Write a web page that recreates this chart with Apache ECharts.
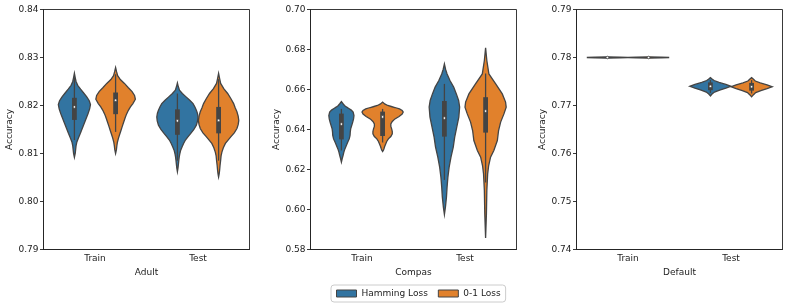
<!DOCTYPE html>
<html><head><meta charset="utf-8">
<script src="https://cdn.jsdelivr.net/npm/echarts@6/dist/echarts.min.js"></script>
<style>html,body{margin:0;padding:0;background:#fff}#c{width:789px;height:308px}</style>
</head><body><div id="c"></div>
<script>
// ---- categories / labels ----
const datasetNames = ['Adult', 'Compas', 'Default'];
const splits = ['Train', 'Test'];
const hueNames = ['Hamming Loss', '0-1 Loss'];
const hueColors = ['#3274a1', '#e1812c'];
const yMins = [0.79, 0.58, 0.74];
const yMaxs = [0.84, 0.70, 0.79];
const yIntervals = [0.01, 0.02, 0.01];

// ---- violin density profiles: [accuracy, relative half-width] ----
const adultTrainHamming = [[0.8092,0],[0.8100,0.04],[0.8108,0.06],[0.8116,0.08],[0.8124,0.12],[0.8133,0.2],[0.8142,0.29],[0.8152,0.38],[0.8163,0.48],[0.8173,0.57],[0.8183,0.66],[0.8193,0.74],[0.8202,0.78],[0.8210,0.72],[0.8218,0.6],[0.8226,0.45],[0.8234,0.3],[0.8242,0.16],[0.8250,0.08],[0.8258,0.04],[0.8267,0]];
const adultTrainZeroOne = [[0.8100,0],[0.8108,0.04],[0.8116,0.06],[0.8124,0.09],[0.8132,0.14],[0.8140,0.2],[0.8148,0.26],[0.8156,0.32],[0.8165,0.39],[0.8174,0.46],[0.8182,0.53],[0.8190,0.62],[0.8197,0.72],[0.8204,0.84],[0.8213,0.96],[0.8221,0.92],[0.8229,0.8],[0.8237,0.62],[0.8246,0.43],[0.8254,0.23],[0.8262,0.1],[0.8270,0.05],[0.8279,0]];
const adultTestHamming = [[0.8062,0],[0.8070,0.03],[0.8078,0.05],[0.8086,0.07],[0.8093,0.09],[0.8100,0.12],[0.8107,0.16],[0.8114,0.23],[0.8121,0.3],[0.8128,0.39],[0.8135,0.52],[0.8142,0.65],[0.8150,0.8],[0.8159,0.92],[0.8168,0.98],[0.8176,1.0],[0.8184,0.97],[0.8190,0.92],[0.8197,0.85],[0.8204,0.76],[0.8211,0.6],[0.8218,0.42],[0.8225,0.24],[0.8232,0.1],[0.8240,0.04],[0.8247,0]];
const adultTestZeroOne = [[0.8051,0],[0.8058,0.03],[0.8065,0.05],[0.8075,0.07],[0.8086,0.1],[0.8095,0.12],[0.8103,0.16],[0.8112,0.23],[0.8121,0.33],[0.8128,0.46],[0.8135,0.6],[0.8143,0.76],[0.8152,0.89],[0.8160,0.95],[0.8169,0.98],[0.8178,0.95],[0.8187,0.89],[0.8195,0.81],[0.8204,0.73],[0.8214,0.6],[0.8225,0.44],[0.8235,0.25],[0.8246,0.1],[0.8256,0.05],[0.8267,0]];
const compasTrainHamming = [[0.6237,0],[0.6255,0.04],[0.6270,0.08],[0.6287,0.12],[0.6303,0.17],[0.6320,0.24],[0.6337,0.31],[0.6353,0.38],[0.6370,0.42],[0.6387,0.43],[0.6403,0.45],[0.6420,0.5],[0.6437,0.55],[0.6453,0.59],[0.6470,0.61],[0.6487,0.57],[0.6497,0.48],[0.6505,0.36],[0.6513,0.24],[0.6520,0.15],[0.6530,0.07],[0.6540,0]];
const compasTrainZeroOne = [[0.6290,0],[0.6297,0.04],[0.6305,0.07],[0.6315,0.1],[0.6328,0.15],[0.6340,0.2],[0.6353,0.28],[0.6365,0.4],[0.6378,0.47],[0.6390,0.47],[0.6403,0.44],[0.6415,0.4],[0.6428,0.4],[0.6440,0.47],[0.6453,0.6],[0.6465,0.8],[0.6477,0.95],[0.6487,1.0],[0.6495,0.95],[0.6503,0.82],[0.6510,0.6],[0.6515,0.42],[0.6520,0.25],[0.6528,0.1],[0.6537,0]];
const compasTestHamming = [[0.5975,0],[0.6012,0.05],[0.6062,0.1],[0.6112,0.13],[0.6162,0.17],[0.6212,0.23],[0.6262,0.32],[0.6312,0.43],[0.6362,0.5],[0.6412,0.6],[0.6462,0.7],[0.6512,0.74],[0.6545,0.69],[0.6578,0.58],[0.6612,0.45],[0.6645,0.27],[0.6678,0.13],[0.6700,0.06],[0.6728,0]];
const compasTestZeroOne = [[0.5858,0],[0.5978,0.04],[0.6095,0.06],[0.6178,0.1],[0.6220,0.15],[0.6262,0.24],[0.6295,0.4],[0.6345,0.57],[0.6395,0.63],[0.6437,0.73],[0.6478,0.89],[0.6512,1.0],[0.6537,0.97],[0.6578,0.81],[0.6628,0.49],[0.6678,0.16],[0.6745,0.06],[0.6808,0]];
const defaultTrainHamming = [[0.77985,0],[0.77995,0.6],[0.7800,1],[0.78005,0.6],[0.78015,0]];
const defaultTrainZeroOne = [[0.77985,0],[0.77995,0.6],[0.7800,1],[0.78005,0.6],[0.78015,0]];
const defaultTestHamming = [[0.7720,0],[0.7724,0.08],[0.7728,0.2],[0.7732,0.45],[0.7736,0.75],[0.7740,1],[0.7744,0.75],[0.7748,0.42],[0.7752,0.18],[0.7755,0.08],[0.7758,0]];
const defaultTestZeroOne = [[0.7718,0],[0.7722,0.08],[0.7727,0.2],[0.7731,0.45],[0.7735,0.75],[0.7739,1],[0.7743,0.75],[0.7747,0.42],[0.7751,0.18],[0.7755,0.08],[0.7758,0]];

// ---- inner box stats: [whiskerLow, q1, median, q3, whiskerHigh] ----
const adultTrainHammingBox = [0.8128, 0.8171, 0.8197, 0.8215, 0.8258];
const adultTrainZeroOneBox = [0.8145, 0.8183, 0.8211, 0.8226, 0.8265];
const adultTestHammingBox = [0.8085, 0.8140, 0.8168, 0.8191, 0.8225];
const adultTestZeroOneBox = [0.8085, 0.8143, 0.8169, 0.8196, 0.8255];
const compasTrainHammingBox = [0.6295, 0.6353, 0.6427, 0.6477, 0.6503];
const compasTrainZeroOneBox = [0.6335, 0.6370, 0.6463, 0.6487, 0.6503];
const compasTestHammingBox = [0.6148, 0.6367, 0.6457, 0.6540, 0.6628];
const compasTestZeroOneBox = [0.6135, 0.6387, 0.6492, 0.6559, 0.6680];
const defaultTrainHammingBox = [0.7800, 0.7800, 0.7800, 0.7800, 0.7800];
const defaultTrainZeroOneBox = [0.7800, 0.7800, 0.7800, 0.7800, 0.7800];
const defaultTestHammingBox = [0.7726, 0.7733, 0.7740, 0.7747, 0.7753];
const defaultTestZeroOneBox = [0.7725, 0.7732, 0.7739, 0.7746, 0.7753];

// table [panel][hue][split]
const profiles = [
  [[adultTrainHamming, adultTestHamming], [adultTrainZeroOne, adultTestZeroOne]],
  [[compasTrainHamming, compasTestHamming], [compasTrainZeroOne, compasTestZeroOne]],
  [[defaultTrainHamming, defaultTestHamming], [defaultTrainZeroOne, defaultTestZeroOne]]
];
const boxes = [
  [[adultTrainHammingBox, adultTestHammingBox], [adultTrainZeroOneBox, adultTestZeroOneBox]],
  [[compasTrainHammingBox, compasTestHammingBox], [compasTrainZeroOneBox, compasTestZeroOneBox]],
  [[defaultTrainHammingBox, defaultTestHammingBox], [defaultTrainZeroOneBox, defaultTestZeroOneBox]]
];

const GRAY = '#444444';
const FONT = 'DejaVu Sans';
const gridLefts = [43.5, 310.5, 576.5];
const grids = gridLefts.map(l => ({left: l, top: 9.5, width: 206, height: 240, show: true, borderColor: '#222', borderWidth: 0.9, backgroundColor: 'transparent'}));

const xAxes = datasetNames.map((n, i) => ({
  type: 'category', gridIndex: i, data: splits,
  name: n, nameLocation: 'middle', nameGap: 18,
  nameTextStyle: {fontFamily: FONT, fontSize: 9, color: '#222'},
  axisLine: {lineStyle: {color: '#222', width: 0.9}},
  axisTick: {alignWithLabel: true, length: 3.5, lineStyle: {color: '#222', width: 0.9}},
  axisLabel: {fontFamily: FONT, fontSize: 9, color: '#222', margin: 5},
  splitLine: {show: false}
}));
const yAxes = datasetNames.map((n, i) => ({
  type: 'value', gridIndex: i, min: yMins[i], max: yMaxs[i], interval: yIntervals[i],
  name: 'Accuracy', nameLocation: 'middle', nameGap: 28,
  nameTextStyle: {fontFamily: FONT, fontSize: 9, color: '#222'},
  axisLine: {show: true, lineStyle: {color: '#222', width: 0.9}},
  axisTick: {show: true, length: 3.5, lineStyle: {color: '#222', width: 0.9}},
  axisLabel: {fontFamily: FONT, fontSize: 9, color: '#222', margin: 5, formatter: v => v.toFixed(2)},
  splitLine: {show: false}
}));

function makeRender(panel, hue) {
  return function (params, api) {
    const split = api.value(0);
    const prof = profiles[panel][hue][split];
    const box = boxes[panel][hue][split];
    const band = api.size([1, 0])[0];
    const cx = api.coord([split, 0])[0] + (hue === 0 ? -0.2 : 0.2) * band;
    const half = 0.2 * band;
    const left = [], right = [];
    prof.forEach(p => {
      const y = api.coord([split, p[0]])[1];
      left.push([cx - p[1] * half, y]);
      right.push([cx + p[1] * half, y]);
    });
    const pts = left.concat(right.reverse());
    const yw0 = api.coord([split, box[0]])[1], yq1 = api.coord([split, box[1]])[1];
    const ymd = api.coord([split, box[2]])[1], yq3 = api.coord([split, box[3]])[1];
    const yw1 = api.coord([split, box[4]])[1];
    return {
      type: 'group',
      children: [
        {type: 'polygon', shape: {points: pts}, style: {fill: hueColors[hue], stroke: GRAY, lineWidth: 1.3}},
        {type: 'line', shape: {x1: cx, y1: yw0, x2: cx, y2: yw1}, style: {stroke: GRAY, lineWidth: 1.3}},
        {type: 'rect', shape: {x: cx - 2.4, y: Math.min(yq1, yq3) - 0.5, width: 4.8, height: Math.abs(yq1 - yq3) + 1}, style: {fill: GRAY}},
        {type: 'circle', shape: {cx: cx, cy: ymd, r: 1.3}, style: {fill: '#fff', stroke: GRAY, lineWidth: 0.8}}
      ]
    };
  };
}

const series = [];
for (let p = 0; p < 3; p++) {
  for (let h = 0; h < 2; h++) {
    series.push({
      type: 'custom', name: hueNames[h], xAxisIndex: p, yAxisIndex: p,
      itemStyle: {color: hueColors[h]},
      renderItem: makeRender(p, h),
      data: splits.map((s, k) => [k, boxes[p][h][k][2]]),
      silent: true, animation: false
    });
  }
}

const chart = echarts.init(document.getElementById('c'), null, {renderer: 'canvas'});
chart.setOption({
  animation: false,
  backgroundColor: '#fff',
  grid: grids, xAxis: xAxes, yAxis: yAxes,
  legend: {
    left: 331, top: 285, orient: 'horizontal',
    icon: 'rect', itemWidth: 20, itemHeight: 7, itemGap: 10,
    padding: [4, 5, 4, 5],
    borderColor: '#cccccc', borderWidth: 1, borderRadius: 3,
    textStyle: {fontFamily: FONT, fontSize: 9, color: '#222'},
    data: hueNames.map((n, h) => ({name: n, itemStyle: {color: hueColors[h], borderColor: GRAY, borderWidth: 1}}))
  },
  series: series
});
</script></body></html>
